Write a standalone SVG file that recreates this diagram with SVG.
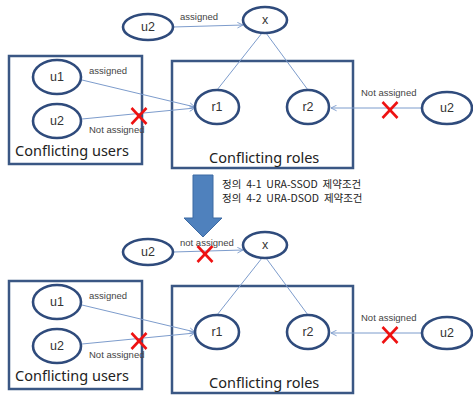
<svg xmlns="http://www.w3.org/2000/svg" width="473" height="399" viewBox="0 0 473 399">
  <style>
    .node ellipse { fill: #ffffff; stroke: #2f4b7c; stroke-width: 2.6; }
    .node text { font-family: "Liberation Sans", Arial, sans-serif; font-size: 12.5px; fill: #333333; text-anchor: middle; }
    .box rect { fill: #ffffff; stroke: #3a5784; stroke-width: 2.5; }
    .box text { font-family: "Noto Sans", "Liberation Sans", sans-serif; font-size: 14.5px; fill: #222222; }
    .edge { stroke: #7d9ccc; stroke-width: 1; fill: none; }
    .arrow { marker-end: url(#open); }
    .lbl { font-family: "Liberation Sans", Arial, sans-serif; font-size: 9.5px; fill: #444444; }
    .cross { stroke: #ee1111; stroke-width: 2.6; stroke-linecap: butt; }
    .note { font-family: "Noto Sans CJK KR", "Liberation Sans", sans-serif; font-size: 10.5px; word-spacing: 2.5px; fill: #222222; }
  </style>
  <defs>
    <marker id="open" viewBox="0 0 10 10" refX="9" refY="5" markerWidth="7" markerHeight="7" markerUnits="userSpaceOnUse" orient="auto">
      <path d="M1,1 L9,5 L1,9" fill="none" stroke="#7d9ccc" stroke-width="1.3"/>
    </marker>
    <g id="xmark">
      <line class="cross" x1="-7.5" y1="-8" x2="7.5" y2="8"/>
      <line class="cross" x1="7.5" y1="-8" x2="-7.5" y2="8"/>
    </g>
  </defs>

  <rect width="473" height="399" fill="#ffffff"/>

  <!-- ===== upper scenario ===== -->
  <g id="users-box-1" class="box">
    <rect x="9" y="56" width="133" height="108"/>
    <text x="15" y="156">Conflicting users</text>
  </g>
  <g id="roles-box-1" class="box">
    <rect x="172" y="61" width="181" height="107"/>
    <text x="209" y="163">Conflicting roles</text>
  </g>

  <g id="connectors-1">
    <line class="edge arrow" x1="173" y1="27" x2="243" y2="25"/>
    <line class="edge" x1="262" y1="33" x2="217" y2="90"/>
    <line class="edge" x1="266" y1="33" x2="308" y2="90"/>
    <line class="edge arrow" x1="82" y1="80" x2="195" y2="107"/>
    <line class="edge arrow" x1="82" y1="119" x2="195" y2="108"/>
    <line class="edge arrow" x1="422" y1="108" x2="331" y2="108"/>
    <use href="#xmark" x="139" y="116"/>
    <use href="#xmark" x="390" y="110"/>
    <text class="lbl" x="180" y="20">assigned</text>
    <text class="lbl" x="89" y="74">assigned</text>
    <text class="lbl" x="89" y="133">Not assigned</text>
    <text class="lbl" x="361" y="96">Not assigned</text>
  </g>

  <g id="u2-top-1" class="node"><ellipse cx="148" cy="27" rx="25" ry="13"/><text x="148" y="31">u2</text></g>
  <g id="x-1" class="node"><ellipse cx="265" cy="20" rx="22" ry="13"/><text x="265" y="24">x</text></g>
  <g id="u1-1" class="node"><ellipse cx="57" cy="77" rx="24" ry="17"/><text x="57" y="81">u1</text></g>
  <g id="u2-left-1" class="node"><ellipse cx="57" cy="121" rx="24" ry="17"/><text x="57" y="125">u2</text></g>
  <g id="r1-1" class="node"><ellipse cx="217" cy="107" rx="22" ry="17"/><text x="217" y="111">r1</text></g>
  <g id="r2-1" class="node"><ellipse cx="308" cy="107" rx="21" ry="17"/><text x="308" y="111">r2</text></g>
  <g id="u2-right-1" class="node"><ellipse cx="447" cy="108" rx="25" ry="16"/><text x="447" y="112">u2</text></g>

  <!-- ===== transition arrow ===== -->
  <g id="transition">
    <polygon points="193,175 213,175 213,218 222,218 203,237 184,218 193,218" fill="#4f81bd" stroke="#3d6aa3" stroke-width="1"/>
    <text class="note" x="222" y="188">정의 4-1 URA-SSOD 제약조건</text>
    <text class="note" x="222" y="202">정의 4-2 URA-DSOD 제약조건</text>
  </g>

  <!-- ===== lower scenario ===== -->
  <g id="users-box-2" class="box">
    <rect x="9" y="281" width="133" height="108"/>
    <text x="15" y="381">Conflicting users</text>
  </g>
  <g id="roles-box-2" class="box">
    <rect x="172" y="286" width="181" height="107"/>
    <text x="209" y="388">Conflicting roles</text>
  </g>

  <g id="connectors-2">
    <line class="edge arrow" x1="173" y1="252" x2="243" y2="250"/>
    <line class="edge" x1="262" y1="258" x2="217" y2="315"/>
    <line class="edge" x1="266" y1="258" x2="308" y2="315"/>
    <line class="edge arrow" x1="82" y1="305" x2="195" y2="332"/>
    <line class="edge arrow" x1="82" y1="344" x2="195" y2="333"/>
    <line class="edge arrow" x1="422" y1="333" x2="331" y2="333"/>
    <use href="#xmark" x="205" y="254"/>
    <use href="#xmark" x="139" y="341"/>
    <use href="#xmark" x="390" y="335"/>
    <text class="lbl" x="180" y="246">not assigned</text>
    <text class="lbl" x="89" y="299">assigned</text>
    <text class="lbl" x="89" y="358">Not assigned</text>
    <text class="lbl" x="361" y="321">Not assigned</text>
  </g>

  <g id="u2-top-2" class="node"><ellipse cx="148" cy="252" rx="25" ry="13"/><text x="148" y="256">u2</text></g>
  <g id="x-2" class="node"><ellipse cx="265" cy="245" rx="22" ry="13"/><text x="265" y="249">x</text></g>
  <g id="u1-2" class="node"><ellipse cx="57" cy="302" rx="24" ry="17"/><text x="57" y="306">u1</text></g>
  <g id="u2-left-2" class="node"><ellipse cx="57" cy="346" rx="24" ry="17"/><text x="57" y="350">u2</text></g>
  <g id="r1-2" class="node"><ellipse cx="217" cy="332" rx="22" ry="17"/><text x="217" y="336">r1</text></g>
  <g id="r2-2" class="node"><ellipse cx="308" cy="332" rx="21" ry="17"/><text x="308" y="336">r2</text></g>
  <g id="u2-right-2" class="node"><ellipse cx="447" cy="333" rx="25" ry="16"/><text x="447" y="337">u2</text></g>
</svg>
